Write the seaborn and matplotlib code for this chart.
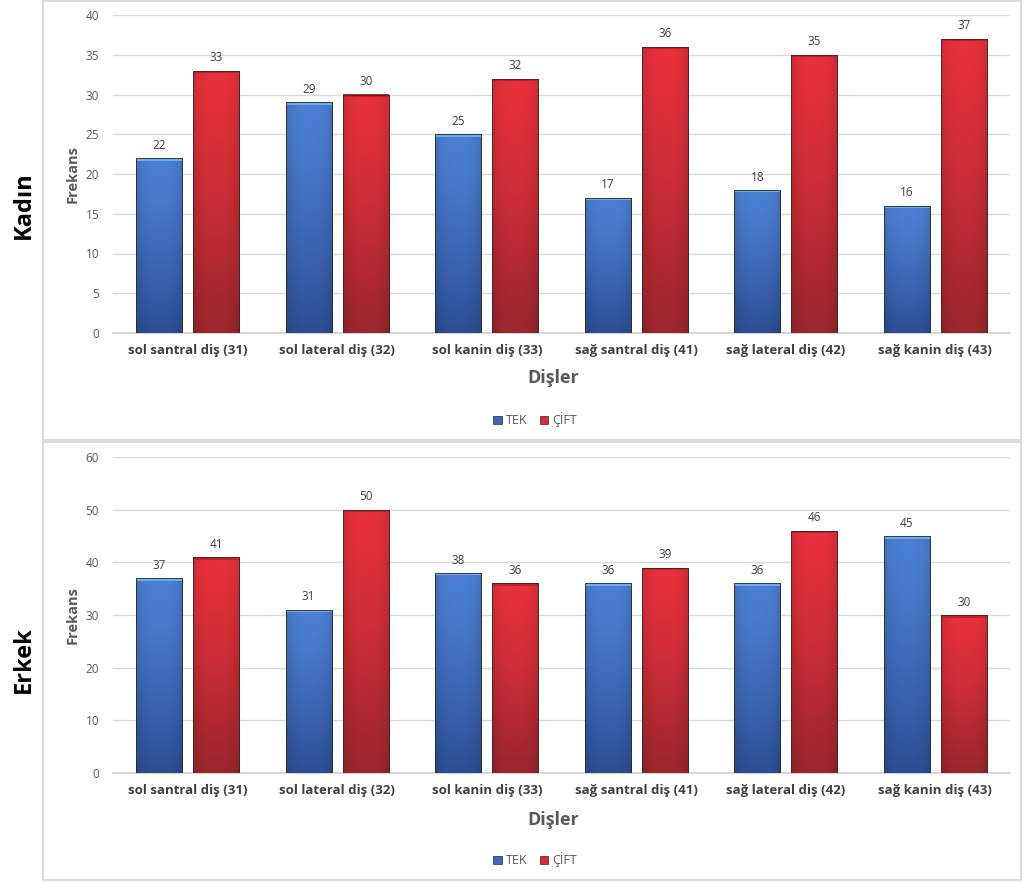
import numpy as np
import pandas as pd
import matplotlib
matplotlib.use("Agg")
import matplotlib.pyplot as plt
from matplotlib.patches import Rectangle
from matplotlib.colors import to_rgb
import seaborn as sns

categories = ["sol santral diş (31)", "sol lateral diş (32)", "sol kanin diş (33)",
              "sağ santral diş (41)", "sağ lateral diş (42)", "sağ kanin diş (43)"]
series = ["TEK", "ÇİFT"]
kadin_tek = [22, 29, 25, 17, 18, 16]
kadin_cift = [33, 30, 32, 36, 35, 37]
erkek_tek = [37, 31, 38, 36, 36, 45]
erkek_cift = [41, 50, 36, 39, 46, 30]
panel_titles = ["Kadın", "Erkek"]
ylims = [40, 60]
ysteps = [5, 10]

sns.set_theme(style="white")
plt.rcParams["font.family"] = ["Open Sans", "DejaVu Sans"]

fig = plt.figure(figsize=(10.24, 8.83), dpi=100)
W, H = 1024, 883

def fx(px):
    return px / W

def fy(py):
    return 1 - py / H

palette = {"TEK": "#3b68bd", "ÇİFT": "#dd2a35"}
grad = {"TEK": ("#4c80d4", "#2d4e94"), "ÇİFT": ("#e8313d", "#9a262c")}
caps = {"TEK": "#6aaef0", "ÇİFT": "#c41f2b"}

# panel frames
for top, bot in [(1, 440), (442, 880)]:
    fig.patches.append(Rectangle((fx(43), fy(bot)), fx(1021) - fx(43), fy(top) - fy(bot),
                                 transform=fig.transFigure, fill=False,
                                 edgecolor="#d4d4d4", linewidth=1.2))

axes_specs = [(15, 333), (457, 773)]
data_sets = [(kadin_tek, kadin_cift), (erkek_tek, erkek_cift)]
label_y = [205, 660]
xlabel_y = [378, 820]
legend_y = [420, 860]

for i, ((top, bot), (tek, cift)) in enumerate(zip(axes_specs, data_sets)):
    ax = fig.add_axes([fx(113), fy(bot), fx(1010) - fx(113), fy(top) - fy(bot)])
    df = pd.DataFrame({
        "Dişler": categories * 2,
        "Seri": ["TEK"] * 6 + ["ÇİFT"] * 6,
        "Frekans": list(tek) + list(cift),
    })
    sns.barplot(data=df, x="Dişler", y="Frekans", hue="Seri", hue_order=series,
                palette=palette, width=0.763, gap=0.193, ax=ax, legend=False,
                edgecolor="#3a3a3a", linewidth=0.6, zorder=3)
    ax.set_xlim(-0.5, 5.5)
    ax.set_ylim(0, ylims[i])
    ax.set_yticks(np.arange(0, ylims[i] + 1, ysteps[i]))
    ax.grid(axis="y", color="#d9d9d9", linewidth=1, zorder=0)
    ax.set_axisbelow(True)
    for s in ["top", "right", "left"]:
        ax.spines[s].set_visible(False)
    ax.spines["bottom"].set_color("#d0d0d0")
    ax.tick_params(axis="y", labelsize=8.5, colors="#595959", length=0, pad=10)
    ax.tick_params(axis="x", length=0, pad=8)
    for lab in ax.get_xticklabels():
        lab.set_fontweight("bold")
        lab.set_fontsize(9.5)
        lab.set_color("#404040")
    ax.set_xlabel("")
    ax.set_ylabel("Frekans", fontsize=10.5, fontweight="bold", color="#595959", labelpad=4)

    # gradients on bars
    patches = [p for p in ax.patches if isinstance(p, Rectangle) and p.get_height() > 0]
    nper = len(categories)
    for j, p in enumerate(patches):
        key = series[j // nper]
        x0, w, h = p.get_x(), p.get_width(), p.get_height()
        c_top = np.array(to_rgb(grad[key][0]))
        c_bot = np.array(to_rgb(grad[key][1]))
        ny, nx = 100, 30
        v = np.linspace(0, 1, ny)[:, None, None]
        u = np.linspace(0, 1, nx)[None, :, None]
        img = c_top * (1 - v ** 1.3) + c_bot * v ** 1.3
        shade = 1 - 0.12 * (np.abs(2 * u - 1) ** 3)
        img = np.clip(img * shade, 0, 1)
        im = ax.imshow(img, extent=[x0, x0 + w, 0, h], origin="upper",
                       aspect="auto", zorder=3.5, interpolation="bilinear")
        im.set_clip_path(p)
        capt = ylims[i] * 0.008
        ax.add_patch(Rectangle((x0, h - capt), w, capt, facecolor=caps[key],
                               edgecolor="none", zorder=3.7))
        ax.add_patch(Rectangle((x0, 0), w, h, fill=False, edgecolor="#2a2a2a",
                               linewidth=0.6, zorder=3.8))
        ax.text(x0 + w / 2, h + ylims[i] * 0.02, f"{int(h)}", ha="center", va="bottom",
                fontsize=8.5, color="#404040", zorder=4)
    ax.set_xlim(-0.5, 5.5)
    ax.set_ylim(0, ylims[i])

    fig.text(fx(553), fy(xlabel_y[i]), "Dişler", ha="center", va="center",
             fontsize=13, fontweight="bold", color="#595959")
    fig.text(fx(24), fy(label_y[i]), panel_titles[i], rotation=90, ha="center",
             va="center", fontsize=17, fontweight="bold", color="black")

    handles = [Rectangle((0, 0), 1, 1, facecolor=palette[s], edgecolor="#2a2a2a",
                         linewidth=0.5) for s in series]
    fig.legend(handles, series, loc="center", bbox_to_anchor=(fx(535), fy(legend_y[i])),
               ncol=2, frameon=False, fontsize=9, handlelength=0.7, handleheight=0.7,
               handletextpad=0.3, columnspacing=1.0, labelcolor="#595959")

fig.savefig("out.png", dpi=100)
